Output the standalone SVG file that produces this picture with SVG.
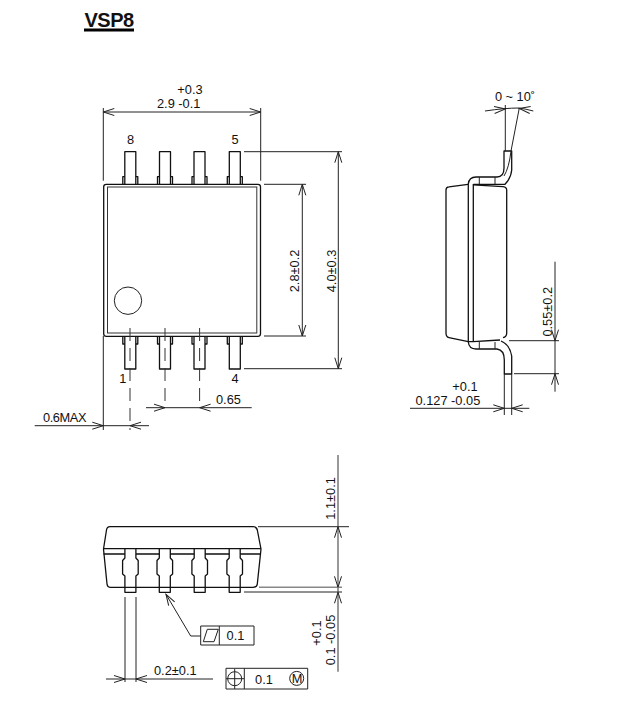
<svg xmlns="http://www.w3.org/2000/svg" xmlns:xlink="http://www.w3.org/1999/xlink" width="621" height="720" viewBox="0 0 621 720">
<style>
text{font-family:"Liberation Sans",Arial,sans-serif;font-size:12.8px;fill:#111}
.m{text-anchor:middle}
.o{fill:none;stroke:#111;stroke-width:1.3;stroke-linejoin:round}
.b{fill:none;stroke:#111;stroke-width:1.3;stroke-linejoin:round}
.t{fill:none;stroke:#222;stroke-width:1}
.d{fill:none;stroke:#333;stroke-width:1;stroke-dasharray:13 7}
</style>
<defs>
<path id="a" d="M-11,-3.5L0,0L-11,3.5" fill="none" stroke="#222" stroke-width="1"/>
<g id="leadT"><path class="o" d="M-5.5,33V0H5.5V33"/><path class="o" d="M-7.5,33V25H-5.5M7.5,33V25H5.5"/></g>
<g id="leadB"><path class="o" d="M-5.5,0V33H5.5V0"/><path class="o" d="M-7.5,0V8H-5.5M7.5,0V8H5.5"/></g>
<path id="leadF" class="o" d="M-5.5,549V558L-7.8,560.5V574L-5.5,576V592.3H5.5V576L7.8,574V560.5L5.5,558V549"/>
</defs>
<rect width="621" height="720" fill="#fff"/>
<g id="title">
<text x="84.5" y="26.5" style="font-size:20px;font-weight:bold;letter-spacing:-.5px">VSP8</text>
<rect x="84" y="28.5" width="50" height="3" fill="#000"/>
</g>
<g id="top-view">
<g id="top-leads">
<use xlink:href="#leadT" href="#leadT" transform="translate(130.3,151.7)"/>
<use xlink:href="#leadT" href="#leadT" transform="translate(165,151.7)"/>
<use xlink:href="#leadT" href="#leadT" transform="translate(199.5,151.7)"/>
<use xlink:href="#leadT" href="#leadT" transform="translate(234.8,151.7)"/>
<use xlink:href="#leadB" href="#leadB" transform="translate(130.3,336)"/>
<use xlink:href="#leadB" href="#leadB" transform="translate(165,336)"/>
<use xlink:href="#leadB" href="#leadB" transform="translate(199.5,336)"/>
<use xlink:href="#leadB" href="#leadB" transform="translate(234.8,336)"/>
</g>
<rect x="103.7" y="184.3" width="156.8" height="152" rx="2.5" fill="#fff" stroke="#111" stroke-width="1.3"/>
<rect x="107.5" y="187" width="149.3" height="146" fill="none" stroke="#333" stroke-width="1"/>
<circle cx="128" cy="300.7" r="13.7" fill="none" stroke="#222" stroke-width="1"/>
<text class="m" x="130.5" y="144">8</text>
<text class="m" x="235" y="144">5</text>
<text class="m" x="122.7" y="383">1</text>
<text class="m" x="235" y="383">4</text>
</g>
<g id="side-view">
<path class="b" d="M446,333V190Q446,187 449,186.8L468,184.3M506.7,333V190Q506.7,187.2 503,186.6L473,184.8"/>
<path class="b" d="M446,333Q446,337 449,337.6L468.3,341.7H473.3L500,340M506.7,333Q506.7,337 503,337.6"/>
<path class="b" d="M468.3,184V342M473.3,184V342"/>
<path class="o" d="M468.3,184Q469,177 476,177H497Q504,177 504,168V151H511.7V170Q511,178 505,184.3H473.3"/>
<path class="o" d="M468.3,342Q469,349 476,349H497Q504.3,350 504.3,360V374H511.7V356Q510,345 501,341"/>
<path class="t" d="M479.3,177V184M495,177V184M479.3,342V349M495,342V349"/>
<path class="t" d="M511,151Q509,168 504,176"/>
</g>
<g id="bottom-view">
<use xlink:href="#leadF" href="#leadF" x="130.4"/>
<use xlink:href="#leadF" href="#leadF" x="164.8"/>
<use xlink:href="#leadF" href="#leadF" x="199.7"/>
<use xlink:href="#leadF" href="#leadF" x="234.7"/>
<path class="b" d="M103.5,549L106.5,530Q107,526.7 110,526.7H253Q256.5,526.7 257.3,530L261,549L257.3,584Q257,587.3 253,587.3H110Q107.5,587.3 107,584Z"/>
<path class="b" d="M103.5,548.7H261"/>
<path class="b" d="M103.5,554H125M136,554H159.3M170.3,554H194.2M205.2,554H229.2M240.2,554H261"/>
</g>
<g id="tolerances">
<path class="t" d="M200.7,626H254V645H200.7ZM219.3,626V645"/>
<path class="t" d="M203.3,641.7L207.3,629.3H218.3L214,641.7Z"/>
<text class="m" x="235.5" y="640">0.1</text>
<path class="t" d="M226,668.3H307.7V689H226ZM244.3,668.3V689"/>
<circle cx="234.7" cy="678.7" r="7" fill="none" stroke="#222"/>
<path class="t" d="M226,678.7H244M234.7,669V689"/>
<text class="m" x="264" y="684">0.1</text>
<circle cx="296.7" cy="678.4" r="7" fill="none" stroke="#222"/>
<text class="m" x="297.2" y="683">M</text>
</g>
<g id="connectors">
<path class="t" d="M103.3,108V180.7M260.7,108V180.7M103.3,112H260.7"/>
<use href="#a" transform="translate(103.3,112) rotate(180)"/><use href="#a" transform="translate(260.7,112)"/>
<path class="t" d="M244,151.7H342M264,184.3H306M264,336H306M244,368.7H342M302.3,184.3V336M338.3,151.7V368.7"/>
<use href="#a" transform="translate(302.3,184.3) rotate(-90)"/><use href="#a" transform="translate(302.3,336) rotate(90)"/>
<use href="#a" transform="translate(338.3,151.7) rotate(-90)"/><use href="#a" transform="translate(338.3,368.7) rotate(90)"/>
<path class="d" d="M130,328V430"/><path class="d" d="M165,328V407"/><path class="d" d="M199.6,328V407"/>
<path class="t" d="M146,407.7H251.7M103.3,336V430M34.7,425.7H149"/>
<use href="#a" transform="translate(165,407.7)"/><use href="#a" transform="translate(199.6,407.7) rotate(180)"/>
<use href="#a" transform="translate(103.3,425.7)"/><use href="#a" transform="translate(130,425.7) rotate(180)"/>
<path class="t" d="M505.3,105V151M519.3,108L511,151M485,111Q505,108 519,108Q526,109 533.3,111"/>
<use href="#a" transform="translate(505.3,109) rotate(-5)"/><use href="#a" transform="translate(519.3,108.5) rotate(188)"/>
<path class="t" d="M509,340.7H559M514,373.7H559M555,261.7V391.7M504.3,374V415M511.7,374V415M410,408.3H529.3"/>
<use href="#a" transform="translate(555,340.7) rotate(90)"/><use href="#a" transform="translate(555,373.7) rotate(-90)"/>
<use href="#a" transform="translate(504.3,408.3)"/><use href="#a" transform="translate(511.7,408.3) rotate(180)"/>
<path class="t" d="M258,526.7H349M244,592H342"/>
<path d="M338,455V671.7" fill="none" stroke="#444" stroke-width="1.1"/>
<path d="M259,587.3H342" fill="none" stroke="#888" stroke-width="1.5"/>
<use href="#a" transform="translate(338,526.7) rotate(-90)"/><use href="#a" transform="translate(338,587.3) rotate(90)"/>
<use href="#a" transform="translate(338,592.3) rotate(-90)"/>
<path class="t" d="M125,597V682M136,597V682M106,679H213"/>
<use href="#a" transform="translate(125,679)"/><use href="#a" transform="translate(136,679) rotate(180)"/>
<path class="t" d="M200.7,636H190.7L166,594.3"/>
<use href="#a" transform="translate(166,594.3) rotate(239)"/>
</g>
<g id="dimension-labels">
<text class="m" x="190" y="93.5">+0.3</text>
<text x="157" y="108">2.9 -0.1</text>
<text class="m" transform="translate(298.5,271) rotate(-90)">2.8±0.2</text>
<text class="m" transform="translate(335.5,271) rotate(-90)">4.0±0.3</text>
<text x="216" y="404">0.65</text>
<text x="43" y="422" style="letter-spacing:-.4px">0.6MAX</text>
<text class="m" x="515" y="100.5">0 ~ 10˚</text>
<text class="m" x="465" y="390.5">+0.1</text>
<text x="415.5" y="405">0.127 -0.05</text>
<text class="m" transform="translate(551.5,311.7) rotate(-90)">0.55±0.2</text>
<text class="m" transform="translate(335,498.5) rotate(-90)">1.1±0.1</text>
<text class="m" transform="translate(321,633) rotate(-90)">+0.1</text>
<text class="m" transform="translate(335,640) rotate(-90)">0.1 -0.05</text>
<text x="154" y="675">0.2±0.1</text>
</g>
</svg>
